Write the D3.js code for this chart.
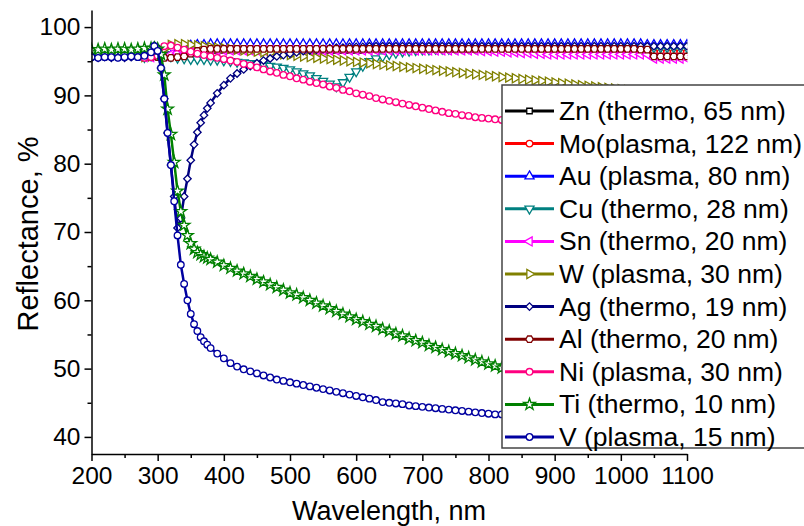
<!DOCTYPE html>
<html>
<head>
<meta charset="utf-8">
<script src="https://cdn.jsdelivr.net/npm/d3@7"></script>
<style>
  body { margin: 0; background: #fff; }
  svg text { font-family: "Liberation Sans", Arial, sans-serif; fill: #000; }
</style>
</head>
<body>
<div id="graphicContainer"></div>
<script>
// wavelength grids (nm)
var wl10 = d3.range(280, 1101, 10);
var wlFine = d3.range(200, 291, 10).concat(d3.range(295, 381, 5), d3.range(390, 1101, 10));

var xTicks = [200, 300, 400, 500, 600, 700, 800, 900, 1000, 1100];
var yTicks = [40, 50, 60, 70, 80, 90, 100];

// reflectance, % (on wl10)
var zn = [95.6, 95.6, 95.7, 95.8, 95.9, 96.1, 96.3, 96.4, 96.5, 96.5,
  96.6, 96.6, 96.6, 96.6, 96.6, 96.6, 96.6, 96.6, 96.6, 96.6,
  96.6, 96.6, 96.6, 96.6, 96.6, 96.6, 96.6, 96.6, 96.6, 96.6,
  96.6, 96.6, 96.6, 96.6, 96.7, 96.7, 96.7, 96.7, 96.7, 96.7,
  96.7, 96.7, 96.7, 96.7, 96.7, 96.7, 96.7, 96.7, 96.7, 96.7,
  96.7, 96.7, 96.7, 96.7, 96.7, 96.7, 96.7, 96.7, 96.7, 96.7,
  96.6, 96.6, 96.6, 96.6, 96.6, 96.6, 96.6, 96.6, 96.6, 96.6,
  96.6, 96.6, 96.6, 96.6, 96.5, 96.5, 96.5, 96.0, 96.0, 96.0,
  96.0, 95.9, 95.9];
var mo = [95.6, 95.6, 95.7, 95.8, 95.9, 96.0, 96.2, 96.4, 96.5, 96.6,
  96.7, 96.7, 96.7, 96.7, 96.7, 96.7, 96.7, 96.7, 96.7, 96.7,
  96.7, 96.7, 96.7, 96.7, 96.7, 96.7, 96.7, 96.7, 96.7, 96.7,
  96.7, 96.7, 96.7, 96.7, 96.7, 96.7, 96.7, 96.7, 96.7, 96.7,
  96.7, 96.7, 96.7, 96.7, 96.7, 96.7, 96.7, 96.7, 96.7, 96.7,
  96.7, 96.7, 96.7, 96.7, 96.7, 96.7, 96.7, 96.7, 96.7, 96.7,
  96.7, 96.7, 96.7, 96.7, 96.7, 96.7, 96.7, 96.7, 96.7, 96.7,
  96.7, 96.7, 96.7, 96.7, 96.6, 96.6, 96.6, 96.3, 96.3, 96.3,
  96.3, 96.3, 96.3];
var au = [95.6, 95.7, 96.0, 95.6, 95.8, 96.5, 97.0, 97.3, 97.4, 97.4,
  97.5, 97.5, 97.5, 97.5, 97.5, 97.5, 97.5, 97.5, 97.5, 97.5,
  97.5, 97.5, 97.5, 97.5, 97.5, 97.5, 97.5, 97.5, 97.5, 97.5,
  97.5, 97.5, 97.5, 97.5, 97.5, 97.5, 97.5, 97.5, 97.5, 97.5,
  97.5, 97.5, 97.5, 97.5, 97.5, 97.5, 97.5, 97.5, 97.5, 97.5,
  97.5, 97.5, 97.5, 97.5, 97.5, 97.5, 97.5, 97.5, 97.5, 97.5,
  97.5, 97.5, 97.5, 97.5, 97.5, 97.5, 97.5, 97.5, 97.5, 97.5,
  97.5, 97.5, 97.5, 97.5, 97.5, 97.5, 97.4, 97.4, 97.4, 97.4,
  97.4, 97.4, 97.4];
var cu = [95.6, 95.8, 96.2, 96.0, 95.7, 95.5, 95.4, 95.3, 95.3, 95.3,
  95.2, 95.2, 95.1, 95.0, 94.9, 94.8, 94.7, 94.6, 94.5, 94.3,
  94.2, 94.0, 93.8, 93.5, 93.2, 92.9, 92.5, 92.1, 91.7, 91.3,
  91.9, 92.7, 93.5, 94.3, 95.0, 95.4, 95.7, 96.0, 96.2, 96.4,
  96.5, 96.6, 96.7, 96.7, 96.8, 96.8, 96.8, 96.9, 96.9, 96.9,
  96.9, 96.9, 96.9, 96.9, 96.9, 96.9, 96.9, 96.9, 96.9, 96.9,
  96.9, 96.9, 96.9, 96.9, 96.9, 96.9, 96.9, 96.9, 96.9, 96.9,
  97.0, 97.0, 97.0, 97.0, 97.0, 97.0, 97.0, 97.0, 97.0, 97.0,
  97.0, 97.0, 97.0];
var sn = [95.6, 95.6, 95.7, 95.8, 96.0, 96.2, 96.4, 96.5, 96.6, 96.6,
  96.6, 96.6, 96.6, 96.6, 96.6, 96.6, 96.6, 96.6, 96.6, 96.6,
  96.6, 96.6, 96.6, 96.6, 96.6, 96.6, 96.6, 96.6, 96.6, 96.6,
  96.6, 96.6, 96.6, 96.6, 96.6, 96.6, 96.6, 96.6, 96.6, 96.6,
  96.6, 96.6, 96.6, 96.6, 96.6, 96.6, 96.6, 96.6, 96.6, 96.6,
  96.6, 96.5, 96.5, 96.4, 96.4, 96.3, 96.3, 96.2, 96.2, 96.1,
  96.1, 96.0, 96.0, 96.0, 96.0, 96.0, 96.0, 96.0, 96.0, 96.0,
  96.0, 96.0, 96.0, 96.0, 96.0, 96.0, 96.0, 95.4, 95.4, 95.4,
  95.4, 95.4, 95.4];
var w = [95.6, 95.7, 96.0, 96.8, 97.4, 97.5, 97.5, 97.4, 97.3, 97.2,
  97.1, 97.0, 96.9, 96.8, 96.7, 96.6, 96.5, 96.4, 96.3, 96.2,
  96.1, 96.0, 95.9, 95.8, 95.7, 95.6, 95.5, 95.4, 95.3, 95.2,
  95.1, 95.0, 94.9, 94.8, 94.7, 94.6, 94.5, 94.4, 94.3, 94.2,
  94.1, 94.0, 93.9, 93.8, 93.7, 93.6, 93.5, 93.4, 93.3, 93.2,
  93.1, 93.0, 92.9, 92.8, 92.7, 92.6, 92.5, 92.4, 92.3, 92.2,
  92.1, 92.0, 91.9, 91.8, 91.7, 91.6, 91.5, 91.4, 91.3, 91.2,
  91.1, 91.0, 90.9, 90.8, 90.7, 90.6, 90.5, 90.4, 90.3, 90.2,
  90.1, 90.0, 89.9];
var al = [95.6, 95.6, 95.6, 95.5, 95.5, 95.6, 95.7, 96.1, 96.5, 96.7,
  96.8, 96.8, 96.8, 96.8, 96.8, 96.8, 96.8, 96.8, 96.8, 96.8,
  96.8, 96.8, 96.8, 96.8, 96.8, 96.8, 96.8, 96.8, 96.8, 96.8,
  96.8, 96.8, 96.8, 96.8, 96.8, 96.8, 96.8, 96.8, 96.8, 96.8,
  96.8, 96.8, 96.8, 96.8, 96.8, 96.8, 96.8, 96.8, 96.8, 96.8,
  96.8, 96.8, 96.8, 96.8, 96.8, 96.8, 96.8, 96.8, 96.8, 96.8,
  96.8, 96.8, 96.8, 96.8, 96.8, 96.8, 96.8, 96.8, 96.8, 96.8,
  96.8, 96.8, 96.8, 96.8, 96.8, 96.7, 96.7, 95.7, 95.7, 95.7,
  95.7, 95.7, 95.7];
var ni = [95.5, 95.6, 95.8, 97.2, 97.3, 97.0, 96.7, 96.4, 96.1, 95.9,
  95.7, 95.5, 95.3, 95.1, 94.9, 94.6, 94.4, 94.1, 93.8, 93.5,
  93.3, 93.0, 92.8, 92.5, 92.3, 92.0, 91.8, 91.6, 91.3, 91.1,
  90.8, 90.6, 90.3, 90.1, 89.9, 89.6, 89.4, 89.2, 89.0, 88.8,
  88.6, 88.4, 88.2, 88.0, 87.8, 87.6, 87.4, 87.3, 87.1, 87.0,
  86.8, 86.7, 86.6, 86.5, 86.4, 86.3, 86.2, 86.1, 86.0, 85.9,
  85.8, 85.7, 85.6, 85.5, 85.4, 85.3, 85.2, 85.1, 85.0, 84.9,
  84.8, 84.7, 84.6, 84.5, 84.4, 84.3, 84.2, 84.1, 84.0, 83.9,
  83.8, 83.7, 83.6];

// reflectance, % (on wlFine)
var ag = [95.5, 95.5, 95.6, 95.5, 95.6, 95.5, 95.6, 95.7, 95.9, 96.6,
  97.3, 97.0, 94.0, 89.5, 84.5, 79.8, 75.2, 70.6, 72.0, 75.2,
  77.8, 80.5, 82.8, 84.6, 86.0, 87.1, 88.1, 88.9,
  90.3, 91.5, 92.5, 93.2, 93.8, 94.3, 94.7, 95.1, 95.4, 95.7,
  95.9, 96.1, 96.3, 96.5, 96.6, 96.7, 96.8, 96.9, 97.0, 97.0,
  97.1, 97.1, 97.1, 97.2, 97.2, 97.2, 97.2, 97.2, 97.2, 97.2,
  97.2, 97.2, 97.2, 97.2, 97.2, 97.2, 97.2, 97.2, 97.2, 97.2,
  97.2, 97.2, 97.2, 97.2, 97.2, 97.2, 97.2, 97.2, 97.2, 97.2,
  97.2, 97.2, 97.2, 97.2, 97.2, 97.2, 97.2, 97.2, 97.2, 97.2,
  97.2, 97.2, 97.2, 97.2, 97.2, 97.2, 97.2, 97.2, 97.2, 97.2,
  97.2, 97.2];
var ti = [96.7, 96.7, 96.8, 96.7, 96.8, 96.8, 96.7, 96.8, 96.9, 96.9,
  96.9, 96.8, 96.0, 93.0, 88.0, 84.3, 80.2, 76.0, 73.0, 71.0,
  69.5, 68.3, 67.5, 67.0, 66.7, 66.4, 66.2, 66.0,
  65.6, 65.1, 64.7, 64.3, 63.9, 63.5, 63.1, 62.7, 62.3, 61.9,
  61.5, 61.1, 60.8, 60.4, 60.0, 59.6, 59.2, 58.8, 58.4, 58.0,
  57.6, 57.2, 56.9, 56.5, 56.2, 55.8, 55.5, 55.1, 54.8, 54.4,
  54.1, 53.8, 53.4, 53.1, 52.8, 52.5, 52.2, 51.9, 51.6, 51.3,
  51.0, 50.7, 50.4, 50.1, 49.8, 49.5, 49.2, 48.9, 48.6, 48.3,
  48.0, 47.7, 47.4, 47.1, 46.8, 46.5, 46.2, 45.9, 45.6, 45.3,
  45.0, 44.7, 44.4, 44.1, 43.8, 43.5, 43.2, 42.9, 42.6, 42.3,
  42.0, 41.7];
var v = [95.6, 95.5, 95.6, 95.6, 95.5, 95.6, 95.7, 95.6, 95.8, 96.3,
  97.2, 96.5, 94.0, 89.5, 84.5, 79.8, 74.5, 69.5, 65.2, 62.4,
  60.0, 58.0, 56.5, 55.5, 54.6, 54.0, 53.5, 53.0,
  52.2, 51.5, 50.8, 50.3, 49.9, 49.6, 49.3, 49.0, 48.7, 48.4,
  48.2, 48.0, 47.8, 47.6, 47.4, 47.2, 47.0, 46.8, 46.6, 46.4,
  46.2, 46.0, 45.8, 45.6, 45.4, 45.1, 45.0, 44.9, 44.8, 44.6,
  44.5, 44.4, 44.3, 44.2, 44.1, 44.0, 43.9, 43.8, 43.7, 43.6,
  43.5, 43.4, 43.3, 43.3, 43.2, 43.1, 43.1, 43.0, 42.9, 42.9,
  42.8, 42.7, 42.7, 42.6, 42.6, 42.5, 42.5, 42.4, 42.4, 42.3,
  42.3, 42.2, 42.2, 42.1, 42.1, 42.0, 42.0, 41.9, 41.9, 41.8,
  41.8, 41.7];

var names = ["Zn (thermo, 65 nm)", "Mo(plasma, 122 nm)", "Au (plasma, 80 nm)", "Cu (thermo, 28 nm)",
  "Sn (thermo, 20 nm)", "W (plasma, 30 nm)", "Ag (thermo, 19 nm)", "Al (thermo, 20 nm)",
  "Ni (plasma, 30 nm)", "Ti (thermo, 10 nm)", "V (plasma, 15 nm)"];
var colors = ["#000000", "#ff0000", "#0000ff", "#008080", "#ff00ff", "#808000",
  "#000080", "#800000", "#ff0080", "#008000", "#0000a0"];
var shapes = ["square", "circle", "up", "down", "left", "right", "diamond", "hexagon", "circle", "star", "circle"];

var series = [
  {x: wl10, y: zn}, {x: wl10, y: mo}, {x: wl10, y: au}, {x: wl10, y: cu},
  {x: wl10, y: sn}, {x: wl10, y: w}, {x: wlFine, y: ag}, {x: wl10, y: al},
  {x: wl10, y: ni}, {x: wlFine, y: ti}, {x: wlFine, y: v}
];
series.forEach(function(s, i) {
  s.name = names[i]; s.color = colors[i]; s.shape = shapes[i];
  s.points = s.x.map(function(d, j) { return [d, s.y[j]]; });
});

var width = 804, height = 526;
var svg = d3.select("#graphicContainer").append("svg")
  .attr("width", width).attr("height", height);

var x = d3.scaleLinear().domain([200, 1100]).range([91.5, 687]);
var y = d3.scaleLinear().domain([37.5, 102.5]).range([454, 10]);

var hexagon = {
  draw: function(ctx, size) {
    var r = Math.sqrt(size / 2.598);
    for (var k = 0; k < 6; k++) {
      var a = Math.PI / 3 * k;
      if (k === 0) ctx.moveTo(r * Math.cos(a), r * Math.sin(a));
      else ctx.lineTo(r * Math.cos(a), r * Math.sin(a));
    }
    ctx.closePath();
  }
};

function markerPath(shape) {
  if (shape === "square") return d3.symbol(d3.symbolSquare, 30)();
  if (shape === "circle") return d3.symbol(d3.symbolCircle, 34)();
  if (shape === "diamond") return d3.symbol(d3.symbolSquare, 28)();
  if (shape === "hexagon") return d3.symbol(hexagon, 36)();
  if (shape === "star") return d3.symbol(d3.symbolStar, 42)();
  return d3.symbol(d3.symbolTriangle, 36)();
}
var rot = {up: 0, down: 180, left: -90, right: 90, diamond: 45};

function drawMarkers(sel, s) {
  sel.attr("d", markerPath(s.shape))
    .attr("fill", "#fff")
    .attr("stroke", s.color)
    .attr("stroke-width", 1.3);
}

var line = d3.line().x(function(d) { return x(d[0]); }).y(function(d) { return y(d[1]); });

svg.append("clipPath").attr("id", "plotClip")
  .append("rect").attr("x", 91.5).attr("y", 10).attr("width", 596).attr("height", 444);

var plot = svg.append("g").attr("clip-path", "url(#plotClip)");

series.forEach(function(s) {
  var g = plot.append("g");
  g.append("path").datum(s.points)
    .attr("d", line)
    .attr("fill", "none")
    .attr("stroke", s.color)
    .attr("stroke-width", 2.5);
  g.selectAll("path.mk").data(s.points).enter().append("path")
    .attr("class", "mk")
    .attr("transform", function(d) {
      return "translate(" + x(d[0]) + "," + y(d[1]) + ") rotate(" + (rot[s.shape] || 0) + ")";
    })
    .call(drawMarkers, s);
});

// axes
svg.append("g").attr("transform", "translate(91.5,0)")
  .call(d3.axisLeft(y).tickValues(yTicks).tickSize(7).tickSizeOuter(0).tickPadding(4));
svg.append("g").attr("transform", "translate(91.5,0)")
  .call(d3.axisLeft(y).tickValues([45, 55, 65, 75, 85, 95]).tickSize(4).tickFormat("").tickSizeOuter(0))
  .select(".domain").remove();

svg.append("g").attr("transform", "translate(0,454)")
  .call(d3.axisBottom(x).tickValues(xTicks).tickFormat(d3.format("d")).tickSize(7).tickSizeOuter(0).tickPadding(6));
svg.append("g").attr("transform", "translate(0,454)")
  .call(d3.axisBottom(x).tickValues([250, 350, 450, 550, 650, 750, 850, 950, 1050]).tickSize(4).tickFormat("").tickSizeOuter(0))
  .select(".domain").remove();

svg.selectAll(".domain, .tick line").attr("stroke", "#000").attr("stroke-width", 1.5);
svg.selectAll(".tick text").attr("font-size", 24.5).attr("font-family", "Liberation Sans, Arial, sans-serif").attr("fill", "#000");

svg.append("text")
  .attr("x", 389).attr("y", 520)
  .attr("text-anchor", "middle")
  .attr("font-size", 27)
  .text("Wavelength, nm");

svg.append("text")
  .attr("transform", "translate(38,234) rotate(-90)")
  .attr("text-anchor", "middle")
  .attr("font-size", 29)
  .text("Reflectance, %");

// legend
var legend = svg.append("g");
legend.append("rect")
  .attr("x", 502).attr("y", 85).attr("width", 320).attr("height", 363)
  .attr("fill", "#fff").attr("stroke", "#444").attr("stroke-width", 1.5);

var rows = legend.selectAll("g.row").data(series).enter().append("g")
  .attr("class", "row")
  .attr("transform", function(d, i) { return "translate(0," + (111 + 32.6 * i) + ")"; });
rows.append("line")
  .attr("x1", 505).attr("x2", 554)
  .attr("stroke", function(d) { return d.color; })
  .attr("stroke-width", 3);
rows.append("path")
  .attr("transform", function(d) { return "translate(529.5,0) rotate(" + (rot[d.shape] || 0) + ")"; })
  .each(function(d) { d3.select(this).call(drawMarkers, d); });
rows.append("text")
  .attr("x", 559).attr("y", 9)
  .attr("font-size", 26.5)
  .text(function(d) { return d.name; });
</script>
</body>
</html>
